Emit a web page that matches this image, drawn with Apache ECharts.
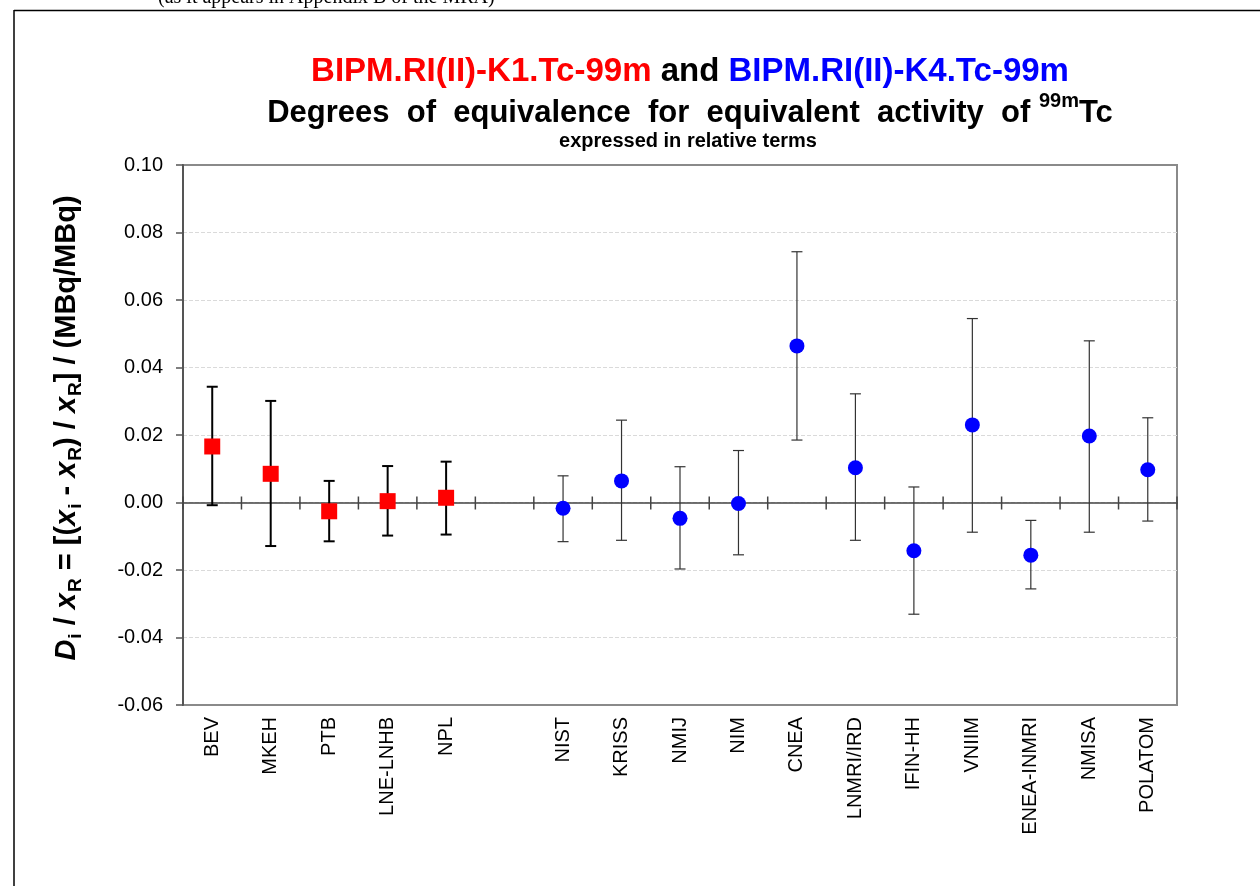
<!DOCTYPE html>
<html>
<head>
<meta charset="utf-8">
<script src="https://cdn.jsdelivr.net/npm/echarts@6/dist/echarts.min.js"></script>
<style>
html,body{margin:0;padding:0;background:#fff;}
#chart{width:1260px;height:886px;}
</style>
</head>
<body>
<div id="chart"></div>
<script>
const categories = ['BEV','MKEH','PTB','LNE-LNHB','NPL','','NIST','KRISS','NMIJ','NIM','CNEA','LNMRI/IRD','IFIN-HH','VNIIM','ENEA-INMRI','NMISA','POLATOM'];
// K1 comparison (red squares)
const k1Values = [0.0166, 0.0085, -0.0026, 0.0004, 0.0014, null, null, null, null, null, null, null, null, null, null, null, null];
const k1Lower  = [-0.0008, -0.0129, -0.0115, -0.0098, -0.0095, null, null, null, null, null, null, null, null, null, null, null, null];
const k1Upper  = [0.0343, 0.0301, 0.0064, 0.0108, 0.0121, null, null, null, null, null, null, null, null, null, null, null, null];
// K4 comparison (blue circles)
const k4Values = [null, null, null, null, null, null, -0.0017, 0.0064, -0.0047, -0.0003, 0.0464, 0.0103, -0.0143, 0.0230, -0.0156, 0.0197, 0.0097];
const k4Lower  = [null, null, null, null, null, null, -0.0116, -0.0112, -0.0197, -0.0155, 0.0185, -0.0112, -0.0331, -0.0088, -0.0256, -0.0088, -0.0055];
const k4Upper  = [null, null, null, null, null, null, 0.0079, 0.0244, 0.0106, 0.0154, 0.0743, 0.0322, 0.0046, 0.0545, -0.0053, 0.0479, 0.0251];
const yTicks = {min: -0.06, max: 0.10, interval: 0.02};

function toErr(lo, hi) {
  const out = [];
  for (let i = 0; i < categories.length; i++) {
    if (lo[i] !== null && hi[i] !== null) out.push([i, lo[i], hi[i]]);
  }
  return out;
}
function toPts(v) { return v.map(x => x === null ? '-' : x); }

function errRender(color, width, cap) {
  return function (params, api) {
    const x = api.value(0);
    const lo = api.coord([x, api.value(1)]);
    const hi = api.coord([x, api.value(2)]);
    const st = {stroke: color, lineWidth: width};
    return {type: 'group', children: [
      {type: 'line', shape: {x1: lo[0], y1: lo[1], x2: hi[0], y2: hi[1]}, style: st},
      {type: 'line', shape: {x1: hi[0] - cap, y1: hi[1], x2: hi[0] + cap, y2: hi[1]}, style: st},
      {type: 'line', shape: {x1: lo[0] - cap, y1: lo[1], x2: lo[0] + cap, y2: lo[1]}, style: st}
    ]};
  };
}
// category-boundary ticks crossing the zero line
function tickRender(params, api) {
  const i = api.value(0);
  const c = api.coord([i, 0]);
  const bw = api.size([1, 0])[0];
  const st = {stroke: '#444', lineWidth: 1.5};
  const children = [{type: 'line', shape: {x1: c[0] - bw / 2, y1: c[1] - 6, x2: c[0] - bw / 2, y2: c[1] + 7}, style: st}];
  if (i === categories.length - 1) {
    children.push({type: 'line', shape: {x1: c[0] + bw / 2, y1: c[1] - 6, x2: c[0] + bw / 2, y2: c[1] + 7}, style: st});
  }
  return {type: 'group', children};
}

const chart = echarts.init(document.getElementById('chart'), null, {renderer: 'canvas'});
const axisFont = 'Liberation Sans, Arial, sans-serif';
const option = {
  backgroundColor: '#fff',
  animation: false,
  grid: {left: 183, right: 83, top: 165, bottom: 181, show: true, borderColor: '#8a8a8a', borderWidth: 2, backgroundColor: 'transparent'},
  xAxis: [
    {type: 'category', data: categories, position: 'bottom', boundaryGap: true,
     axisLine: {show: false, onZero: false}, axisTick: {show: false},
     axisLabel: {rotate: 90, interval: 0, margin: 12, fontSize: 20, color: '#000', fontFamily: axisFont},
     splitLine: {show: false}},
    {type: 'category', data: categories, position: 'top', boundaryGap: true,
     axisLine: {show: true, onZero: true, lineStyle: {color: '#444', width: 1.5}},
     axisTick: {show: false},
     axisLabel: {show: false}, splitLine: {show: false}}
  ],
  yAxis: {type: 'value', min: yTicks.min, max: yTicks.max, interval: yTicks.interval,
    axisLine: {show: true, lineStyle: {color: '#555', width: 2}},
    axisTick: {show: true, length: 7, lineStyle: {color: '#555', width: 1.5}},
    axisLabel: {fontSize: 20, color: '#000', margin: 20, fontFamily: axisFont,
      formatter: v => v.toFixed(2)},
    splitLine: {show: true, showMinLine: false, showMaxLine: false,
      lineStyle: {color: '#dadada', type: 'dashed', width: 1}}},
  graphic: [
    {type: 'line', shape: {x1: 14, y1: 10.5, x2: 1260, y2: 10.5}, style: {stroke: '#000', lineWidth: 1.5}},
    {type: 'line', shape: {x1: 14, y1: 10, x2: 14, y2: 886}, style: {stroke: '#000', lineWidth: 1.5}},
    {type: 'text', left: 158, top: -12, style: {text: '(as it appears in Appendix B of the MRA)', font: '20px "Liberation Serif", "Times New Roman", serif', fill: '#000'}},
    {type: 'text', x: 690, y: 72, style: {
      text: '{r|BIPM.RI(II)-K1.Tc-99m}{k| and }{b|BIPM.RI(II)-K4.Tc-99m}',
      align: 'center', verticalAlign: 'middle',
      rich: {
        r: {fill: '#ff0000', font: 'bold 33px "Liberation Sans", Arial, sans-serif'},
        k: {fill: '#000', font: 'bold 33px "Liberation Sans", Arial, sans-serif'},
        b: {fill: '#0000ff', font: 'bold 33px "Liberation Sans", Arial, sans-serif'}
      }}},
    {type: 'text', x: 690, y: 110, style: {
      text: '{t|Degrees  of  equivalence  for  equivalent  activity  of }{s|99m}{t|Tc}',
      align: 'center', verticalAlign: 'middle',
      rich: {
        t: {fill: '#000', font: 'bold 31px "Liberation Sans", Arial, sans-serif', lineHeight: 38, verticalAlign: 'bottom'},
        s: {fill: '#000', font: 'bold 20px "Liberation Sans", Arial, sans-serif', lineHeight: 38, verticalAlign: 'top'}
      }}},
    {type: 'text', x: 688, y: 141, style: {
      text: 'expressed in relative terms', align: 'center', verticalAlign: 'middle',
      fill: '#000', font: 'bold 20px "Liberation Sans", Arial, sans-serif'}},
    {type: 'text', x: 67, y: 428, rotation: Math.PI / 2, style: {
      text: '{i|D}{s|i}{n| / }{i|x}{s|R}{n| = [(}{i|x}{s|i}{n| - }{i|x}{s|R}{n|) / }{i|x}{s|R}{n|] / (MBq/MBq)}',
      align: 'center', verticalAlign: 'middle',
      rich: {
        n: {fill: '#000', font: 'bold 29px "Liberation Sans", Arial, sans-serif', lineHeight: 36, verticalAlign: 'middle'},
        i: {fill: '#000', font: 'italic bold 29px "Liberation Sans", Arial, sans-serif', lineHeight: 36, verticalAlign: 'middle'},
        s: {fill: '#000', font: 'bold 19px "Liberation Sans", Arial, sans-serif', lineHeight: 36, verticalAlign: 'bottom', padding: [0, 0, 0, 1]}
      }}}
  ],
  series: [
    {type: 'custom', name: 'ticks', xAxisIndex: 0, z: 2, silent: true,
     data: categories.map((c, i) => [i, 0]), encode: {x: 0, y: 1}, renderItem: tickRender},
    {type: 'custom', name: 'K1 err', xAxisIndex: 0, z: 3, data: toErr(k1Lower, k1Upper),
     encode: {x: 0, y: [1, 2]}, renderItem: errRender('#000', 2, 5.5)},
    {type: 'custom', name: 'K4 err', xAxisIndex: 0, z: 3, data: toErr(k4Lower, k4Upper),
     encode: {x: 0, y: [1, 2]}, renderItem: errRender('#333', 1.2, 5.5)},
    {type: 'scatter', name: 'K1', xAxisIndex: 0, z: 5, data: toPts(k1Values), symbol: 'rect', symbolSize: 16,
     itemStyle: {color: '#ff0000', opacity: 1}},
    {type: 'scatter', name: 'K4', xAxisIndex: 0, z: 5, data: toPts(k4Values), symbol: 'circle', symbolSize: 15,
     itemStyle: {color: '#0000ff', opacity: 1}}
  ]
};
chart.setOption(option);
</script>
</body>
</html>
